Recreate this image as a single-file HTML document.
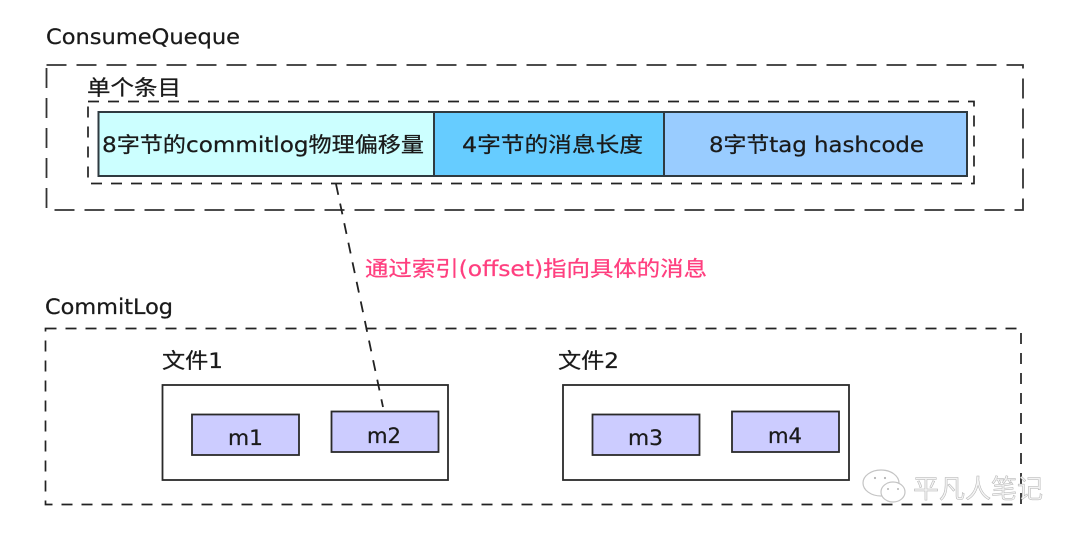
<!DOCTYPE html>
<html lang="zh">
<head>
<meta charset="utf-8">
<style>
html,body{margin:0;padding:0;background:#fff;width:1080px;height:537px;overflow:hidden}
svg{display:block}
text{font-family:"DejaVu Sans","Noto Sans CJK SC",sans-serif;font-size:21px;fill:#1a1a1a;stroke:#1a1a1a;stroke-width:.25px}
</style>
</head>
<body>
<svg width="1080" height="537" viewBox="0 0 1080 537" xmlns="http://www.w3.org/2000/svg">
<rect width="1080" height="537" fill="#fff"/>
<text x="46" y="44" textLength="194" lengthAdjust="spacingAndGlyphs">ConsumeQueque</text>
<rect x="46.500" y="65" width="976.500" height="145" fill="none" stroke="#333" stroke-width="1.800" stroke-dasharray="20 10"/>
<text x="87" y="95" textLength="94" lengthAdjust="spacingAndGlyphs">单个条目</text>
<rect x="88" y="101.500" width="886" height="82" fill="none" stroke="#222" stroke-width="1.700" stroke-dasharray="11 9"/>
<rect x="98.500" y="112" width="335.500" height="64" fill="#ccffff" stroke="#2f3a40" stroke-width="2"/>
<rect x="434" y="112" width="230" height="64" fill="#66ccff" stroke="#2f3a40" stroke-width="2"/>
<rect x="664" y="112" width="303" height="64" fill="#99ccff" stroke="#2f3a40" stroke-width="2"/>
<text x="102" y="152" textLength="322" lengthAdjust="spacingAndGlyphs">8字节的commitlog物理偏移量</text>
<text x="462" y="152" textLength="181" lengthAdjust="spacingAndGlyphs">4字节的消息长度</text>
<text x="709" y="152" textLength="215" lengthAdjust="spacingAndGlyphs">8字节tag hashcode</text>
<text x="365" y="276" textLength="342" lengthAdjust="spacingAndGlyphs" style="fill:#ff3f7f;stroke:#ff3f7f">通过索引(offset)指向具体的消息</text>
<text x="45" y="314" textLength="128" lengthAdjust="spacingAndGlyphs">CommitLog</text>
<rect x="45.500" y="328.500" width="975.500" height="176" fill="none" stroke="#222" stroke-width="1.700" stroke-dasharray="11 9"/>
<text x="162" y="368" textLength="61" lengthAdjust="spacingAndGlyphs">文件1</text>
<rect x="162.500" y="385" width="285.500" height="95" fill="#fff" stroke="#2a2a2a" stroke-width="1.800"/>
<rect x="192" y="414.500" width="107" height="40.500" fill="#ccccff" stroke="#2a2a2a" stroke-width="1.800"/>
<rect x="331.500" y="411.500" width="107" height="40.500" fill="#ccccff" stroke="#2a2a2a" stroke-width="1.800"/>
<text x="228" y="445" textLength="35" lengthAdjust="spacingAndGlyphs">m1</text>
<text x="367" y="443" textLength="34" lengthAdjust="spacingAndGlyphs">m2</text>
<line x1="336" y1="184" x2="383" y2="407" stroke="#222" stroke-width="1.800" stroke-dasharray="11 9"/>
<text x="558" y="368" textLength="61" lengthAdjust="spacingAndGlyphs">文件2</text>
<rect x="563" y="385" width="286" height="95" fill="#fff" stroke="#2a2a2a" stroke-width="1.800"/>
<rect x="592.500" y="414.500" width="107" height="40.500" fill="#ccccff" stroke="#2a2a2a" stroke-width="1.800"/>
<rect x="732" y="411.500" width="107" height="40.500" fill="#ccccff" stroke="#2a2a2a" stroke-width="1.800"/>
<text x="628" y="445" textLength="35" lengthAdjust="spacingAndGlyphs">m3</text>
<text x="768" y="443" textLength="34" lengthAdjust="spacingAndGlyphs">m4</text>
<g fill="none" stroke="#c4c4c4" stroke-width="1.200">
<ellipse cx="881" cy="483" rx="18" ry="13"/>
<ellipse cx="893" cy="492" rx="12" ry="10" fill="#fff"/>
</g>
<g fill="#b5b5b5">
<circle cx="875" cy="478" r="1.100"/><circle cx="885" cy="478" r="1.100"/>
<circle cx="888" cy="489" r="1"/><circle cx="898" cy="489" r="1"/>
</g>
<text x="913" y="498" textLength="130" lengthAdjust="spacingAndGlyphs" style="font-size:26px;fill:#f4f4f4;stroke:#b0b0b0;stroke-width:.5px">平凡人笔记</text>
</svg>
</body>
</html>
